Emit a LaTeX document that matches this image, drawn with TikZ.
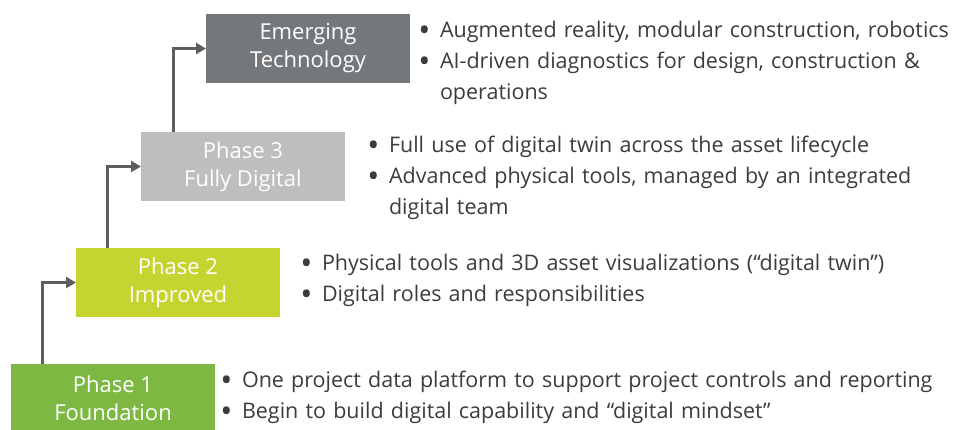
\documentclass[tikz,border=0pt]{standalone}
\usepackage{fontspec}
\setmainfont{Open Sans}
\usetikzlibrary{arrows.meta}
\definecolor{greenone}{HTML}{7DB843}
\definecolor{limetwo}{HTML}{C5D431}
\definecolor{greythree}{HTML}{BDBEC0}
\definecolor{greyfour}{HTML}{75787B}
\definecolor{flowgrey}{HTML}{5E5E5E}
\definecolor{bodygrey}{HTML}{3C3C3C}
\newcommand{\bul}{\leavevmode\llap{\raisebox{-4pt}{\scalebox{1.5}{\textbullet}}\hspace{9.5pt}}}
\tikzset{
	every node/.style={inner sep=0pt,outer sep=0pt},
	phasebox/.style={minimum width=204pt,minimum height=69pt,text=white,align=center,font=\fontsize{22}{28}\selectfont},
	bullets/.style={anchor=base west,text width=720pt,align=left,text=bodygrey,font=\fontsize{21.5}{31}\selectfont},
	flow/.style={draw=flowgrey,line width=3pt,-{Triangle[length=10pt,width=11pt]}},
}

\begin{document}
\begin{tikzpicture}[x=1pt,y=-1pt]
	\useasboundingbox (0,0) rectangle (957,429);
	
	% phase boxes...................
	\node [phasebox,fill=greenone] (phaseone) at (113,398.5) {Phase 1\\Foundation};
	\node [phasebox,fill=limetwo] (phasetwo) at (178,282.5) {Phase 2\\Improved};
	\node [phasebox,fill=greythree] (phasethree) at (243,166.5) {Phase 3\\Fully Digital};
	\node [phasebox,fill=greyfour] (emerging) at (308,48.5) {Emerging\\Technology};
	
	% steps up......................
	\draw [flow] ([xshift=31pt]phaseone.north west) |- (phasetwo.west);
	\draw [flow] ([xshift=31pt]phasetwo.north west) |- (phasethree.west);
	\draw [flow] ([xshift=32pt]phasethree.north west) |- (emerging.west);
	
	% bullet lists..................
	\node [bullets] (listone) at (242,387) {\bul One project data platform to support project controls and reporting\\
		\bul Begin to build digital capability and “digital mindset”};
	\node [bullets] (listtwo) at (322,270) {\bul Physical tools and 3D asset visualizations (“digital twin”)\\
		\bul Digital roles and responsibilities};
	\node [bullets] (listthree) at (389,152) {\bul Full use of digital twin across the asset lifecycle\\
		\bul Advanced physical tools, managed by an integrated\\
		digital team};
	\node [bullets] (listfour) at (440,37) {\bul Augmented reality, modular construction, robotics\\
		\bul AI-driven diagnostics for design, construction \&\\
		operations};
	
\end{tikzpicture}
\end{document}
